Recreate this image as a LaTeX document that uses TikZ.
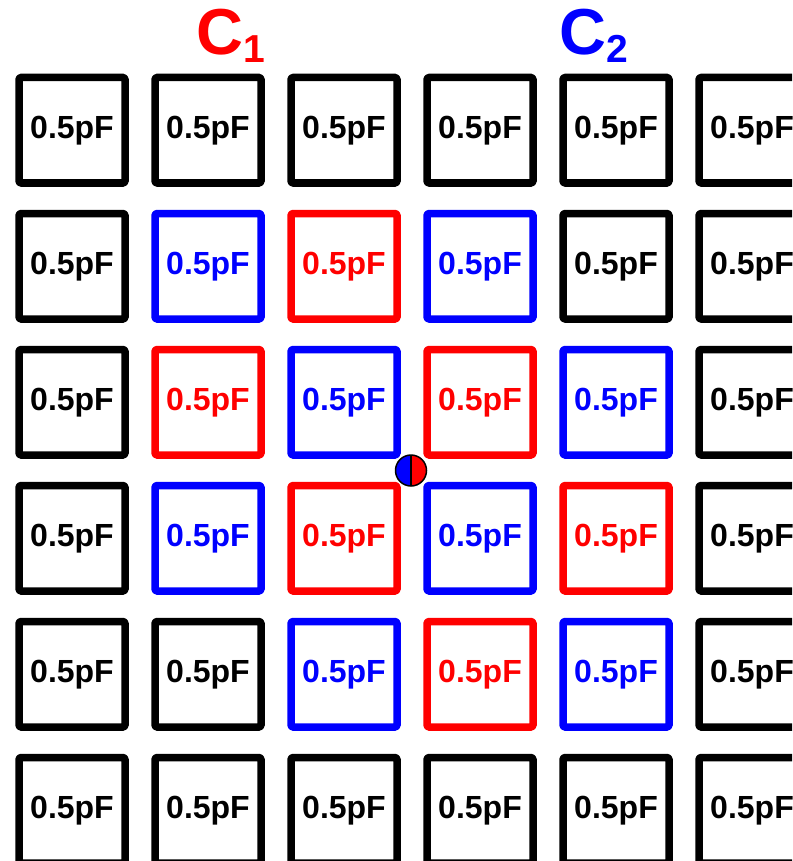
\documentclass[tikz,border=0pt]{standalone}
\usepackage{fontspec}
\setmainfont{Liberation Sans}
\definecolor{pr}{RGB}{255,0,0}
\definecolor{pb}{RGB}{0,0,255}
\tikzset{
  cap/.style={draw=#1, text=#1, line width=7.5pt, minimum width=106pt, minimum height=105.5pt,
    inner sep=0pt, rounded corners=1.5pt, line join=round,
    font=\fontsize{32}{32}\selectfont\bfseries},
  lbl/.style={anchor=base west, inner sep=0pt, text=#1, font=\bfseries}
}
\begin{document}
\begin{tikzpicture}[x=1pt,y=-1pt]
\clip (0,0) rectangle (792,861);
\fill[white] (0,0) rectangle (792,861);
\foreach \r/\cols in {1/{black,black,black,black,black,black},
                      2/{black,pb,pr,pb,black,black},
                      3/{black,pr,pb,pr,pb,black},
                      4/{black,pb,pr,pb,pr,black},
                      5/{black,black,pb,pr,pb,black},
                      6/{black,black,black,black,black,black}}{
  \foreach \c [count=\k] in \cols {
    \node[cap=\c] (b\r\k) at ({72+136*(\k-1)},{130.25+136*(\r-1)}) {0.5pF};
  }
}
\node[lbl=pr] (c1) at (196,55) {\fontsize{65}{65}\selectfont C\raisebox{-8pt}{\fontsize{39}{39}\selectfont 1}};
\node[lbl=pb] (c2) at (559,55) {\fontsize{65}{65}\selectfont C\raisebox{-8pt}{\fontsize{39}{39}\selectfont 2}};
\node[circle, minimum size=31pt, inner sep=0pt, draw, line width=1.5pt,
  path picture={
    \fill[pb] (path picture bounding box.south west) rectangle (path picture bounding box.north);
    \fill[pr] (path picture bounding box.south) rectangle (path picture bounding box.north east);
    \draw[line width=1.5pt] (path picture bounding box.south) -- (path picture bounding box.north);
  }] (dot) at (411,470.5) {};
\end{tikzpicture}
\end{document}
